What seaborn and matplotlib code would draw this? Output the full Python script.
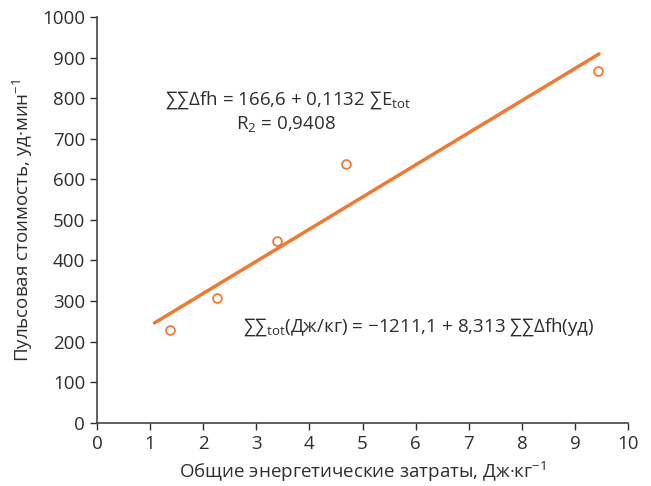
import numpy as np
import pandas as pd
import matplotlib
matplotlib.use('Agg')
import matplotlib.pyplot as plt
import seaborn as sns

# data
energy = [1.38, 2.25, 3.38, 4.68, 9.43]
pulse_cost = [229, 308, 448, 638, 867]
fit_x = [1.08, 9.45]
fit_y = [246, 909]

x_ticks = [0, 1, 2, 3, 4, 5, 6, 7, 8, 9, 10]
y_ticks = [0, 100, 200, 300, 400, 500, 600, 700, 800, 900, 1000]

orange = '#F07A35'
grey = '#2e2e2e'

sns.set_style('ticks')
plt.rcParams['font.family'] = ['Open Sans', 'DejaVu Sans']
plt.rcParams['mathtext.fontset'] = 'custom'
plt.rcParams['mathtext.rm'] = 'Open Sans'
plt.rcParams['text.color'] = grey
plt.rcParams['axes.labelcolor'] = grey
plt.rcParams['xtick.color'] = grey
plt.rcParams['ytick.color'] = grey

df = pd.DataFrame({'x': energy, 'y': pulse_cost})
df_fit = pd.DataFrame({'x': fit_x, 'y': fit_y})

fig = plt.figure(figsize=(6.51, 4.86), dpi=100)
ax = fig.add_axes([0.149, 0.130, 0.816, 0.835])

sns.lineplot(data=df_fit, x='x', y='y', color=orange, linewidth=2.5, ax=ax)
sns.scatterplot(data=df, x='x', y='y', marker='o', s=40, facecolor='white',
                edgecolor=orange, linewidth=1.3, ax=ax, zorder=3)

ax.set_xlim(0, 10)
ax.set_ylim(0, 1000)
ax.set_xticks(x_ticks)
ax.set_yticks(y_ticks)
ax.tick_params(labelsize=13.5, width=1, length=5, direction='out')
for s in ['left', 'bottom']:
    ax.spines[s].set_color('#444444')
    ax.spines[s].set_linewidth(1.2)
sns.despine(ax=ax)

ax.set_xlabel('Общие энергетические затраты, Дж·кг$^{\\mathregular{-1}}$', fontsize=13.5, labelpad=5)
ax.set_ylabel('Пульсовая стоимость, уд·мин$^{\\mathregular{-1}}$', fontsize=13.5, labelpad=5)

ax.text(1.28, 783, '∑∑Δfh = 166,6 + 0,1132 ∑E$_{\\mathregular{tot}}$', fontsize=13.5, ha='left', va='baseline')
ax.text(3.55, 722, 'R$_{\\mathregular{2}}$ = 0,9408', fontsize=13.5, ha='center', va='baseline')
ax.text(2.74, 224, '∑∑$_{\\mathregular{tot}}$(Дж/кг) = −1211,1 + 8,313 ∑∑Δfh(уд)', fontsize=13.5, ha='left', va='baseline')

fig.savefig('out.png', dpi=100)
